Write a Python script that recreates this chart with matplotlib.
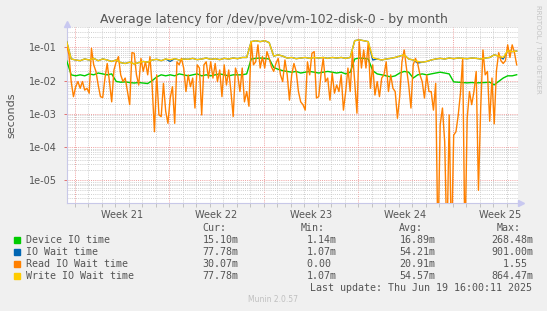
"""
Munin style chart: average latency for /dev/pve/vm-102-disk-0 (by month).
Writes out.png (547x311).
"""

import numpy as np
import matplotlib
matplotlib.use('Agg')
import matplotlib.pyplot as plt
from matplotlib.lines import Line2D
from matplotlib.patches import Rectangle

# ---- data (seconds) ----
# read IO wait, one sample every 4 hours
read_wait = [
    0.12, 0.06, 0.0094, 0.0033, 0.0066, 0.0094, 0.0059, 0.0094, 0.0052, 0.0059,
    0.0042, 0.094, 0.03, 0.019, 0.0074, 0.0033, 0.0031, 0.012, 0.033, 0.0094,
    0.0023, 0.021, 0.037, 0.053, 0.015, 0.0094, 0.012, 0.0047, 0.0019, 0.07,
    0.067, 0.015, 0.0074, 0.047, 0.019, 0.037, 0.015, 0.053, 0.0066, 0.00029,
    0.015, 0.00093, 0.00083, 0.0083, 0.0012, 0.00052, 0.003, 0.0066,
    0.00052, 0.037, 0.03, 0.047, 0.024, 0.0047, 0.015, 0.0066, 0.012, 0.0015,
    0.03, 0.024, 0.00093, 0.03, 0.037, 0.012, 0.037, 0.012, 0.033, 0.0094,
    0.021, 0.0033, 0.03, 0.0074, 0.021, 0.0047, 0.00083, 0.024, 0.015, 0.0047,
    0.024, 0.0023, 0.0047, 0.0017, 0.15, 0.03, 0.037, 0.12, 0.024, 0.053,
    0.024, 0.075, 0.047, 0.026, 0.019, 0.033, 0.047, 0.015,
    0.0094, 0.042, 0.015, 0.0026, 0.015, 0.033, 0.019, 0.0047, 0.0023, 0.0019,
    0.0013, 0.037, 0.015, 0.067, 0.075, 0.003, 0.0033, 0.015, 0.047, 0.0094,
    0.012, 0.0026, 0.017, 0.0042, 0.0074, 0.0047, 0.015, 0.0013, 0.0047, 0.024,
    0.0047, 0.075, 0.0094, 0.00105, 0.15, 0.024, 0.084, 0.024, 0.134, 0.0059,
    0.03, 0.0037, 0.0094, 0.0033, 0.012, 0.015, 0.037, 0.0047,
    0.015, 0.0059, 0.0047, 0.00074, 0.0033, 0.037, 0.084, 0.024, 0.0074, 0.0015,
    0.03, 0.047, 0.033, 0.015, 0.0094, 0.003, 0.015, 0.0047, 0.0047, 0.0013,
    0.0083, 0.0, 0.00047, 0.0015, 0.000145, 0.0, 0.00093, 0.0, 0.00023, 0.00029,
    0.0009, 0.0042, 0.047, 0.0, 0.00074, 0.0047, 0.0019, 0.0047, 0.019, 0.000005,
    0.0015, 0.084, 0.015, 0.019, 0.0006, 0.012, 0.0005, 0.02,
    0.07, 0.04, 0.033, 0.04, 0.12, 0.05, 0.12, 0.07, 0.03,
]

# the smoother series, one sample every 8 hours
write_wait = [
    0.15, 0.045, 0.042, 0.04, 0.045, 0.042, 0.047, 0.04, 0.045, 0.042,
    0.038, 0.042, 0.035, 0.033, 0.036, 0.032, 0.035, 0.038, 0.036, 0.042,
    0.044, 0.04, 0.045, 0.043, 0.046, 0.042, 0.045, 0.044, 0.047, 0.043,
    0.045, 0.048, 0.044, 0.046, 0.043, 0.047, 0.045, 0.048, 0.046, 0.05,
    0.05, 0.15, 0.16, 0.15, 0.16, 0.14, 0.055, 0.06, 0.055, 0.048,
    0.05, 0.046, 0.048, 0.05, 0.047, 0.05, 0.048, 0.05, 0.047, 0.05,
    0.048, 0.05, 0.047, 0.05, 0.16, 0.17, 0.16, 0.15, 0.05, 0.045,
    0.042, 0.045, 0.047, 0.05, 0.055, 0.06, 0.045, 0.042, 0.038, 0.036,
    0.038, 0.042, 0.045, 0.047, 0.045, 0.048, 0.046, 0.048, 0.047, 0.046,
    0.048, 0.047, 0.045, 0.048, 0.05, 0.06, 0.055, 0.05, 0.08, 0.075,
    0.078,
]
io_wait = [
    0.15, 0.045, 0.042, 0.04, 0.045, 0.042, 0.047, 0.04, 0.045, 0.042,
    0.038, 0.042, 0.035, 0.033, 0.036, 0.032, 0.035, 0.038, 0.036, 0.042,
    0.044, 0.04, 0.045, 0.038, 0.046, 0.042, 0.045, 0.044, 0.047, 0.043,
    0.045, 0.048, 0.044, 0.046, 0.043, 0.047, 0.045, 0.048, 0.046, 0.05,
    0.05, 0.15, 0.16, 0.15, 0.16, 0.14, 0.055, 0.06, 0.055, 0.048,
    0.05, 0.046, 0.048, 0.05, 0.047, 0.05, 0.048, 0.05, 0.047, 0.05,
    0.048, 0.05, 0.047, 0.05, 0.16, 0.17, 0.16, 0.15, 0.042, 0.045,
    0.042, 0.045, 0.047, 0.05, 0.055, 0.06, 0.045, 0.042, 0.034, 0.036,
    0.038, 0.042, 0.045, 0.047, 0.045, 0.048, 0.046, 0.048, 0.047, 0.046,
    0.048, 0.047, 0.045, 0.048, 0.05, 0.06, 0.055, 0.045, 0.08, 0.075,
    0.078,
]
device_io = [
    0.04, 0.015, 0.014, 0.015, 0.014, 0.016, 0.015, 0.017, 0.016, 0.015,
    0.016, 0.0095, 0.009, 0.0092, 0.0088, 0.0085, 0.0088, 0.0085, 0.0082, 0.01,
    0.013, 0.015, 0.014, 0.015, 0.014, 0.016, 0.015, 0.014, 0.015, 0.016,
    0.014, 0.015, 0.014, 0.015, 0.016, 0.015, 0.014, 0.015, 0.015, 0.015,
    0.016, 0.045, 0.047, 0.048, 0.047, 0.045, 0.025, 0.022, 0.02, 0.019,
    0.018, 0.019, 0.017, 0.018, 0.019, 0.018, 0.017, 0.018, 0.019, 0.018,
    0.017, 0.018, 0.016, 0.018, 0.045, 0.048, 0.047, 0.045, 0.02, 0.016,
    0.015, 0.014, 0.013, 0.014, 0.017, 0.019, 0.018, 0.012, 0.015, 0.016,
    0.015, 0.016, 0.017, 0.018, 0.017, 0.016, 0.0092, 0.009, 0.0088, 0.0086,
    0.0088, 0.0086, 0.0087, 0.0088, 0.009, 0.0075, 0.0095, 0.012, 0.014, 0.014,
    0.0151,
]

week_labels = ['Week 21', 'Week 22', 'Week 23', 'Week 24', 'Week 25']
decade_labels = ['1e-05', '1e-04', '1e-03', '1e-02', '1e-01']

legend_names = ['Device IO time', 'IO Wait time', 'Read IO Wait time', 'Write IO Wait time']
legend_cur = ['15.10m', '77.78m', '30.07m', '77.78m']
legend_min = ['1.14m', '1.07m', '0.00 ', '1.07m']
legend_avg = ['16.89m', '54.21m', '20.91m', '54.57m']
legend_max = ['268.48m', '901.00m', '1.55 ', '864.47m']

COLORS = ['#00CC00', '#0066B3', '#FF8000', '#FFCC00']
TXT = '#555555'

W, H = 547, 311
FIRST_MONDAY = 0.58   # days from left edge of the graph
X_END = 33.43         # graph width in days


def fx(px):
    return px / W


def fy(py):
    return 1 - py / H


def main():
    fig = plt.figure(figsize=(W / 100, H / 100), dpi=100, facecolor='#F0F0F0')
    ax = fig.add_axes([fx(66.7), fy(203.3), fx(518) - fx(66.7), fy(27.3) - fy(203.3)])
    ax.set_facecolor('white')
    ax.set_yscale('log')
    ax.set_xlim(0, X_END)
    ax.set_ylim(2.03e-6, 0.405)

    days = FIRST_MONDAY + np.arange(34)
    days = days[days < X_END]
    mondays = days[::7]
    minor_col = '#CFCFCF'
    major_col = '#EFA0A0'
    dots = (0, (1, 1.2))

    # grid
    for d in days:
        is_mon = np.isclose(d, mondays).any()
        ax.axvline(d, color=major_col if is_mon else minor_col, lw=0.7, ls=dots, zorder=1)
    decades = 10.0 ** np.arange(-6, 0)
    for dec in decades:
        for m in range(2, 10):
            ax.axhline(dec * m, color=minor_col, lw=0.7, ls=dots, zorder=1)
    for dec in decades[1:]:
        ax.axhline(dec, color=major_col, lw=0.7, ls=dots, zorder=1)

    # series
    t_fine = np.arange(len(read_wait)) * 4 / 24
    t_coarse = np.arange(len(write_wait)) * 8 / 24
    lw = 1.0
    ax.plot(t_coarse, device_io, color=COLORS[0], lw=lw, zorder=3)
    ax.plot(t_coarse, io_wait, color=COLORS[1], lw=lw, zorder=3)
    ax.plot(t_fine, np.clip(read_wait, 1e-7, None), color=COLORS[2], lw=lw, zorder=4)
    ax.plot(t_coarse, write_wait, color=COLORS[3], lw=lw, zorder=5)

    # axes look
    for s in ['top', 'right']:
        ax.spines[s].set_visible(False)
    for s in ['left', 'bottom']:
        ax.spines[s].set_color('#C8C8E8')
        ax.spines[s].set_linewidth(0.8)
    ax.set_xticks(mondays + 3.5)
    ax.set_xticklabels(week_labels)
    ax.set_xticks(days, minor=True)
    ax.tick_params(axis='x', which='major', length=0, pad=5, labelsize=7, labelcolor=TXT)
    ax.tick_params(axis='x', which='minor', length=3, width=0.6, color='#BBBBBB')
    for tk, d in zip(ax.xaxis.get_minor_ticks(), days):
        if np.isclose(d, mondays).any():
            tk.tick1line.set_color('#E06060')
    ax.set_yticks(decades[1:])
    ax.set_yticklabels(decade_labels)
    ax.yaxis.set_minor_locator(matplotlib.ticker.NullLocator())
    ax.tick_params(axis='y', which='major', length=2, width=0.6, color='#E06060',
                   pad=5, labelsize=7, labelcolor=TXT)

    # arrows at the axis ends
    fig.add_artist(Line2D([fx(66.7)], [fy(23.5)], marker='^', markersize=4,
                          color='#C8C8F0', transform=fig.transFigure))
    fig.add_artist(Line2D([fx(521)], [fy(203.3)], marker='>', markersize=4,
                          color='#C8C8F0', transform=fig.transFigure))

    # texts
    fig.text(fx(273.5), fy(19), 'Average latency for /dev/pve/vm-102-disk-0 - by month',
             ha='center', va='center', fontsize=9, color=TXT)
    fig.text(fx(11), fy(115), 'seconds', rotation=90, ha='center', va='center',
             fontsize=8, color=TXT)
    fig.text(fx(538), fy(49), 'RRDTOOL / TOBI OETIKER', rotation=270, ha='center',
             va='center', fontsize=5, color='#C4C4C4')

    mono = dict(family='DejaVu Sans Mono', fontsize=7.2, color=TXT, va='center')
    heads = [('Cur:', 202), ('Min:', 301), ('Avg:', 399), ('Max:', 497)]
    for txt, x in heads:
        fig.text(fx(x), fy(228), txt, ha='left', **mono)
    rows_y = [240, 251.8, 263.6, 275.6]
    for i, y in enumerate(rows_y):
        fig.add_artist(Rectangle((fx(14), fy(y + 3)), fx(6), 6 / H, color=COLORS[i],
                                 transform=fig.transFigure))
        fig.text(fx(26), fy(y), legend_names[i], ha='left', **mono)
        fig.text(fx(238.5), fy(y), legend_cur[i], ha='right', **mono)
        fig.text(fx(337), fy(y), legend_min[i], ha='right', **mono)
        fig.text(fx(435.5), fy(y), legend_avg[i], ha='right', **mono)
        fig.text(fx(533), fy(y), legend_max[i], ha='right', **mono)
    fig.text(fx(532), fy(287.7), 'Last update: Thu Jun 19 16:00:11 2025', ha='right', **mono)
    fig.text(fx(273), fy(300), 'Munin 2.0.57', ha='center', va='center',
             fontsize=5.5, color='#C0C0C0')

    fig.savefig('out.png', dpi=100, facecolor=fig.get_facecolor())
    plt.close(fig)


if __name__ == '__main__':
    main()
